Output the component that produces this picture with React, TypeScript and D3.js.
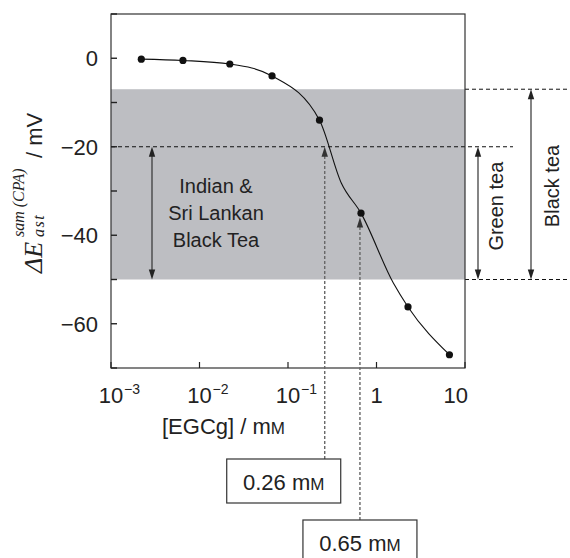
import React from 'react';
import * as d3 from 'd3';

const width = 570;
const height = 558;
const margin = { top: 14, right: 105, bottom: 190, left: 111 };

// EGCg concentration (mM) vs potential change (mV), measured points
const conc = [0.0022, 0.0065, 0.022, 0.066, 0.227, 0.668, 2.27, 6.67];
const dE = [-0.2, -0.5, -1.3, -4, -14, -35, -56.2, -67];

// drawn fit curve
const fitConc = [0.0022, 0.0065, 0.022, 0.066, 0.227, 0.4, 0.668, 1.55, 2.27, 6.67];
const fitDE = [-0.2, -0.5, -1.3, -4, -14, -28.2, -35, -50.8, -56.2, -67];

const yTicks = [10, 0, -10, -20, -30, -40, -50, -60, -70];
const yLabels = [0, -20, -40, -60];
const xTicks = [0.001, 0.01, 0.1, 1, 10];
const xTickLabels = [
  { base: '10', sup: '\u22123' },
  { base: '10', sup: '\u22122' },
  { base: '10', sup: '\u22121' },
  { base: '1', sup: '' },
  { base: '10', sup: '' },
];

const blackTeaRange = [-7, -50];
const greenTeaRange = [-20, -50];
const markerConc = [0.26, 0.65];
const markerLabels = ['0.26', '0.65'];
const markerTip = [-20, -36];
const indianLines = ['Indian &', 'Sri Lankan', 'Black Tea'];

const sans = '"Liberation Sans", Arial, Helvetica, sans-serif';
const serif = '"Liberation Serif", "Times New Roman", serif';

const x = d3.scaleLog().domain([0.001, 10]).range([margin.left, width - margin.right]);
const y = d3.scaleLinear().domain([-70, 10]).range([height - margin.bottom, margin.top]);

const line = d3
  .line<number>()
  .x((d, i) => x(fitConc[i]))
  .y((d) => y(d))
  .curve(d3.curveMonotoneX);

const Arrow = ({ x0, y0, x1, y1, color = '#222' }) => {
  // small filled triangle at (x1,y1) pointing away from (x0,y0)
  const ang = Math.atan2(y1 - y0, x1 - x0);
  const len = 10;
  const w = 3.2;
  const bx = x1 - len * Math.cos(ang);
  const by = y1 - len * Math.sin(ang);
  const px = -Math.sin(ang) * w;
  const py = Math.cos(ang) * w;
  return <path d={`M${x1},${y1}L${bx + px},${by + py}L${bx - px},${by - py}Z`} fill={color} />;
};

const App = () => {
  const x0 = margin.left;
  const x1 = width - margin.right;
  const yTop = margin.top;
  const yBot = height - margin.bottom;

  const indX = 152;
  const greenX = 478;
  const blackX = 531;
  const boxTop = [459, 520];
  const boxShift = [-41, 0];

  return (
    <svg
      width={width}
      height={height}
      style={{ position: 'absolute', left: 0, top: 0, background: '#fff' }}
      fontFamily={sans}
    >
      {/* grey band: black tea range */}
      <rect
        x={x0}
        y={y(blackTeaRange[0])}
        width={x1 - x0}
        height={y(blackTeaRange[1]) - y(blackTeaRange[0])}
        fill="#bdbec2"
      />

      {/* dashed reference lines */}
      <line x1={x0} x2={513} y1={y(-20)} y2={y(-20)} stroke="#111" strokeDasharray="4,3" strokeWidth={1} />
      <line x1={x1} x2={width} y1={y(blackTeaRange[0])} y2={y(blackTeaRange[0])} stroke="#111" strokeDasharray="4,3" strokeWidth={1} />
      <line x1={x1} x2={width} y1={y(blackTeaRange[1])} y2={y(blackTeaRange[1])} stroke="#111" strokeDasharray="4,3" strokeWidth={1} />

      {/* frame */}
      <rect x={x0} y={yTop} width={x1 - x0} height={yBot - yTop} fill="none" stroke="#333" strokeWidth={1.2} />

      {/* y ticks */}
      {yTicks.map((t) => (
        <line key={t} x1={x0} x2={x0 + 6} y1={y(t)} y2={y(t)} stroke="#222" strokeWidth={1.4} />
      ))}
      {yLabels.map((t) => (
        <text key={t} x={98} y={y(t) + 8} textAnchor="end" fontSize={22} fill="#222">
          {t < 0 ? `\u2212${-t}` : t}
        </text>
      ))}

      {/* x ticks */}
      {xTicks.map((t, i) => {
        const lab = xTickLabels[i];
        const last = i === xTicks.length - 1;
        return (
          <g key={t}>
            <line x1={x(t)} x2={x(t)} y1={yBot} y2={yBot - 6} stroke="#222" strokeWidth={1.2} />
            <text
              x={last ? x(t) + 3 : x(t)}
              y={403}
              textAnchor={last ? 'end' : 'middle'}
              fontSize={22}
              fill="#222"
            >
              {lab.base}
            </text>
            {lab.sup && (
              <text x={x(t) + 13} y={394} fontSize={14} fill="#222">
                {lab.sup}
              </text>
            )}
          </g>
        );
      })}

      {/* x axis title */}
      <text x={162} y={434} fontSize={22} fill="#222">
        [EGCg] / m<tspan fontSize={17}>M</tspan>
      </text>

      {/* y axis title */}
      <g transform="translate(42,273) rotate(-90)" fill="#222">
        <text x={0} y={0} fontFamily={serif} fontStyle="italic" fontSize={26}>
          {'\u0394E'}
        </text>
        <text x={36} y={-18} fontFamily={serif} fontStyle="italic" fontSize={16}>
          sam (CPA)
        </text>
        <text x={36} y={2} fontFamily={serif} fontStyle="italic" fontSize={16} letterSpacing={1.5}>
          ast
        </text>
        <text x={115} y={0} fontSize={22}>
          / mV
        </text>
      </g>

      {/* Indian & Sri Lankan range arrow */}
      <line x1={indX} x2={indX} y1={y(-20) + 6} y2={y(-50) - 6} stroke="#333" strokeWidth={1.2} />
      <Arrow x0={indX} y0={y(-35)} x1={indX} y1={y(-20)} />
      <Arrow x0={indX} y0={y(-35)} x1={indX} y1={y(-50)} />
      {indianLines.map((s, i) => (
        <text key={s} x={216} y={193 + i * 27} textAnchor="middle" fontSize={20} fill="#222">
          {s}
        </text>
      ))}

      {/* Green tea */}
      <line x1={greenX} x2={greenX} y1={y(greenTeaRange[0]) + 6} y2={y(greenTeaRange[1]) - 6} stroke="#333" strokeWidth={1.2} />
      <Arrow x0={greenX} y0={y(-35)} x1={greenX} y1={y(greenTeaRange[0])} />
      <Arrow x0={greenX} y0={y(-35)} x1={greenX} y1={y(greenTeaRange[1])} />
      <text transform={`translate(503,${y(-35) - 7}) rotate(-90)`} textAnchor="middle" fontSize={20} fill="#222">
        Green tea
      </text>

      {/* Black tea */}
      <line x1={blackX} x2={blackX} y1={y(blackTeaRange[0]) + 6} y2={y(blackTeaRange[1]) - 6} stroke="#333" strokeWidth={1.2} />
      <Arrow x0={blackX} y0={y(-30)} x1={blackX} y1={y(blackTeaRange[0])} />
      <Arrow x0={blackX} y0={y(-30)} x1={blackX} y1={y(blackTeaRange[1])} />
      <text transform="translate(559,186) rotate(-90)" textAnchor="middle" fontSize={20} fill="#222">
        Black tea
      </text>

      {/* curve and points */}
      <path d={line(fitDE) || ''} fill="none" stroke="#111" strokeWidth={1.1} />
      {dE.map((v, i) => (
        <circle key={i} cx={x(conc[i])} cy={y(v)} r={3.6} fill="#111" />
      ))}

      {/* concentration markers */}
      {markerConc.map((c, i) => {
        const mx = x(c);
        const by = boxTop[i];
        const bx = mx + boxShift[i];
        return (
          <g key={c}>
            <line x1={mx} x2={mx} y1={by} y2={y(markerTip[i]) + 8} stroke="#666" strokeWidth={1.4} strokeDasharray="3,2" />
            <Arrow x0={mx} y0={by} x1={mx} y1={y(markerTip[i])} color="#333" />
            <rect x={bx - 57} y={by} width={114} height={44} fill="#fff" stroke="#333" strokeWidth={1.2} />
            <text x={bx} y={by + 31} textAnchor="middle" fontSize={22} fill="#222">
              {markerLabels[i]} m<tspan fontSize={17}>M</tspan>
            </text>
          </g>
        );
      })}
    </svg>
  );
};

export default App;
